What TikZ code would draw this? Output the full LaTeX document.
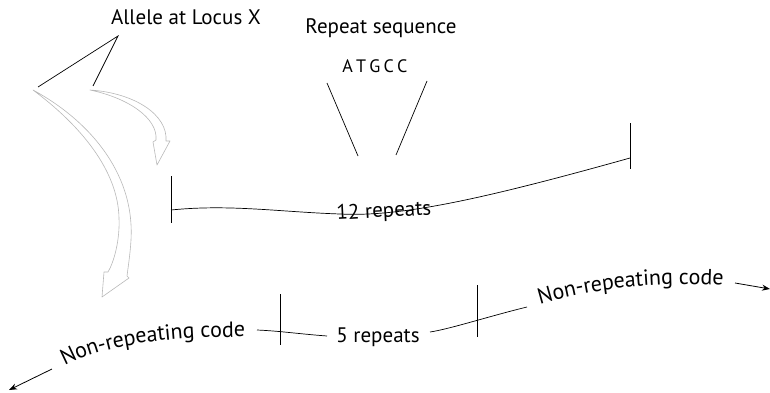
\documentclass[tikz,border=0pt]{standalone}
\usepackage{fontspec}
\setmainfont{PT Sans}
\usetikzlibrary{arrows.meta,decorations.text}

\begin{document}
\begin{tikzpicture}[x=1pt,y=-1pt,
  lbl/.style={font=\fontsize{21}{24}\selectfont, inner sep=0pt, anchor=base},
  seq/.style={font=\fontsize{18}{20}\selectfont, inner sep=0pt, anchor=base},
  strand/.style={line width=0.7pt},
  tickmark/.style={line width=1pt},
  pointer/.style={line width=0.7pt},
  hollow/.style={draw=black!28, line width=0.6pt, line join=round},
  tipped/.style={line width=0.8pt, -{Stealth[length=8pt,width=6pt]}},
  curvetext/.style={decorate, decoration={text along path, text align=center,
      raise=-6pt, text={|\fontsize{22}{24}\selectfont|#1}}}]
\useasboundingbox (0,0) rectangle (770,393);

% ---- labels ----
\node[lbl] (allele) at (186,25) {Allele at Locus X};
\node[lbl] (repseq) at (381,34) {Repeat sequence};
\node[seq] (motif) at (375,73) {A\hspace{0.18em}T\hspace{0.18em}G\hspace{0.18em}C\hspace{0.18em}C};

% ---- pointer lines from the allele label ----
\coordinate (apex) at (118,36);
\coordinate (ptA) at (38,87);
\coordinate (ptB) at (93,86);
\draw[pointer] (ptA) -- (apex) -- (ptB);

% ---- hollow curved arrows ----
\draw[hollow] (33,90) .. controls (85,118) and (135,170) .. (131,240)
  .. controls (130.2,254) and (128,268) .. (127,276)
  -- (129,278) -- (102,297) -- (104,272) -- (108,272)
  .. controls (114,262) and (120,240) .. (119,218)
  .. controls (118,170) and (80,125) .. cycle;
\draw[hollow] (90,90) .. controls (135,93) and (168,115) .. (166,141)
  -- (170,141) -- (157,165) -- (153,142) -- (156,140)
  .. controls (158,118) and (128,98) .. cycle;

% ---- pointer lines from the repeat motif ----
\coordinate (mL1) at (327,83);
\coordinate (mL2) at (358,156);
\coordinate (mR1) at (427,81);
\coordinate (mR2) at (396,155);
\draw[pointer] (mL1) -- (mL2);
\draw[pointer] (mR1) -- (mR2);

% ---- long allele: 12 repeats ----
\coordinate (t1a) at (171,176);
\coordinate (t1b) at (171,223);
\coordinate (t2a) at (630,123);
\coordinate (t2b) at (630,169);
\coordinate (s1) at (171,210);
\coordinate (s2) at (340,214);
\coordinate (s3) at (630,158);
\draw[tickmark] (t1a) -- (t1b);
\draw[tickmark] (t2a) -- (t2b);
\draw[strand] (s1) .. controls (230,204) and (280,212) .. (s2)
  .. controls (400,217) and (480,200) .. (s3);
\node[font=\fontsize{21}{24}\selectfont, inner sep=0pt, rotate=3] (twelve) at (384,212) {12 repeats};

% ---- short allele: 5 repeats ----
\coordinate (leftend) at (9,390);
\coordinate (leftstart) at (52,369);
\coordinate (rightstart) at (735,283);
\coordinate (rightend) at (770,289);
\draw[tipped] (leftstart) -- (leftend);
\draw[tipped] (rightstart) -- (rightend);

\path[curvetext={Non-repeating code}] (56,364) .. controls (103,336) and (180,330) .. (252,331);
\path[curvetext={Non-repeating code}] (533,300) .. controls (590,282) and (660,275) .. (729,280);

\coordinate (b1) at (257,330);
\coordinate (b2) at (327,336);
\coordinate (b3) at (430,332);
\coordinate (b4) at (527,307);
\draw[strand] (b1) .. controls (280,331) and (300,334) .. (b2);
\draw[strand] (b3) .. controls (450,329) and (490,316) .. (b4);
\node[lbl] (five) at (378,342) {5 repeats};

\coordinate (k1a) at (280,294);
\coordinate (k1b) at (280,345);
\coordinate (k2a) at (477,285);
\coordinate (k2b) at (477,337);
\draw[tickmark] (k1a) -- (k1b);
\draw[tickmark] (k2a) -- (k2b);
\end{tikzpicture}
\end{document}
